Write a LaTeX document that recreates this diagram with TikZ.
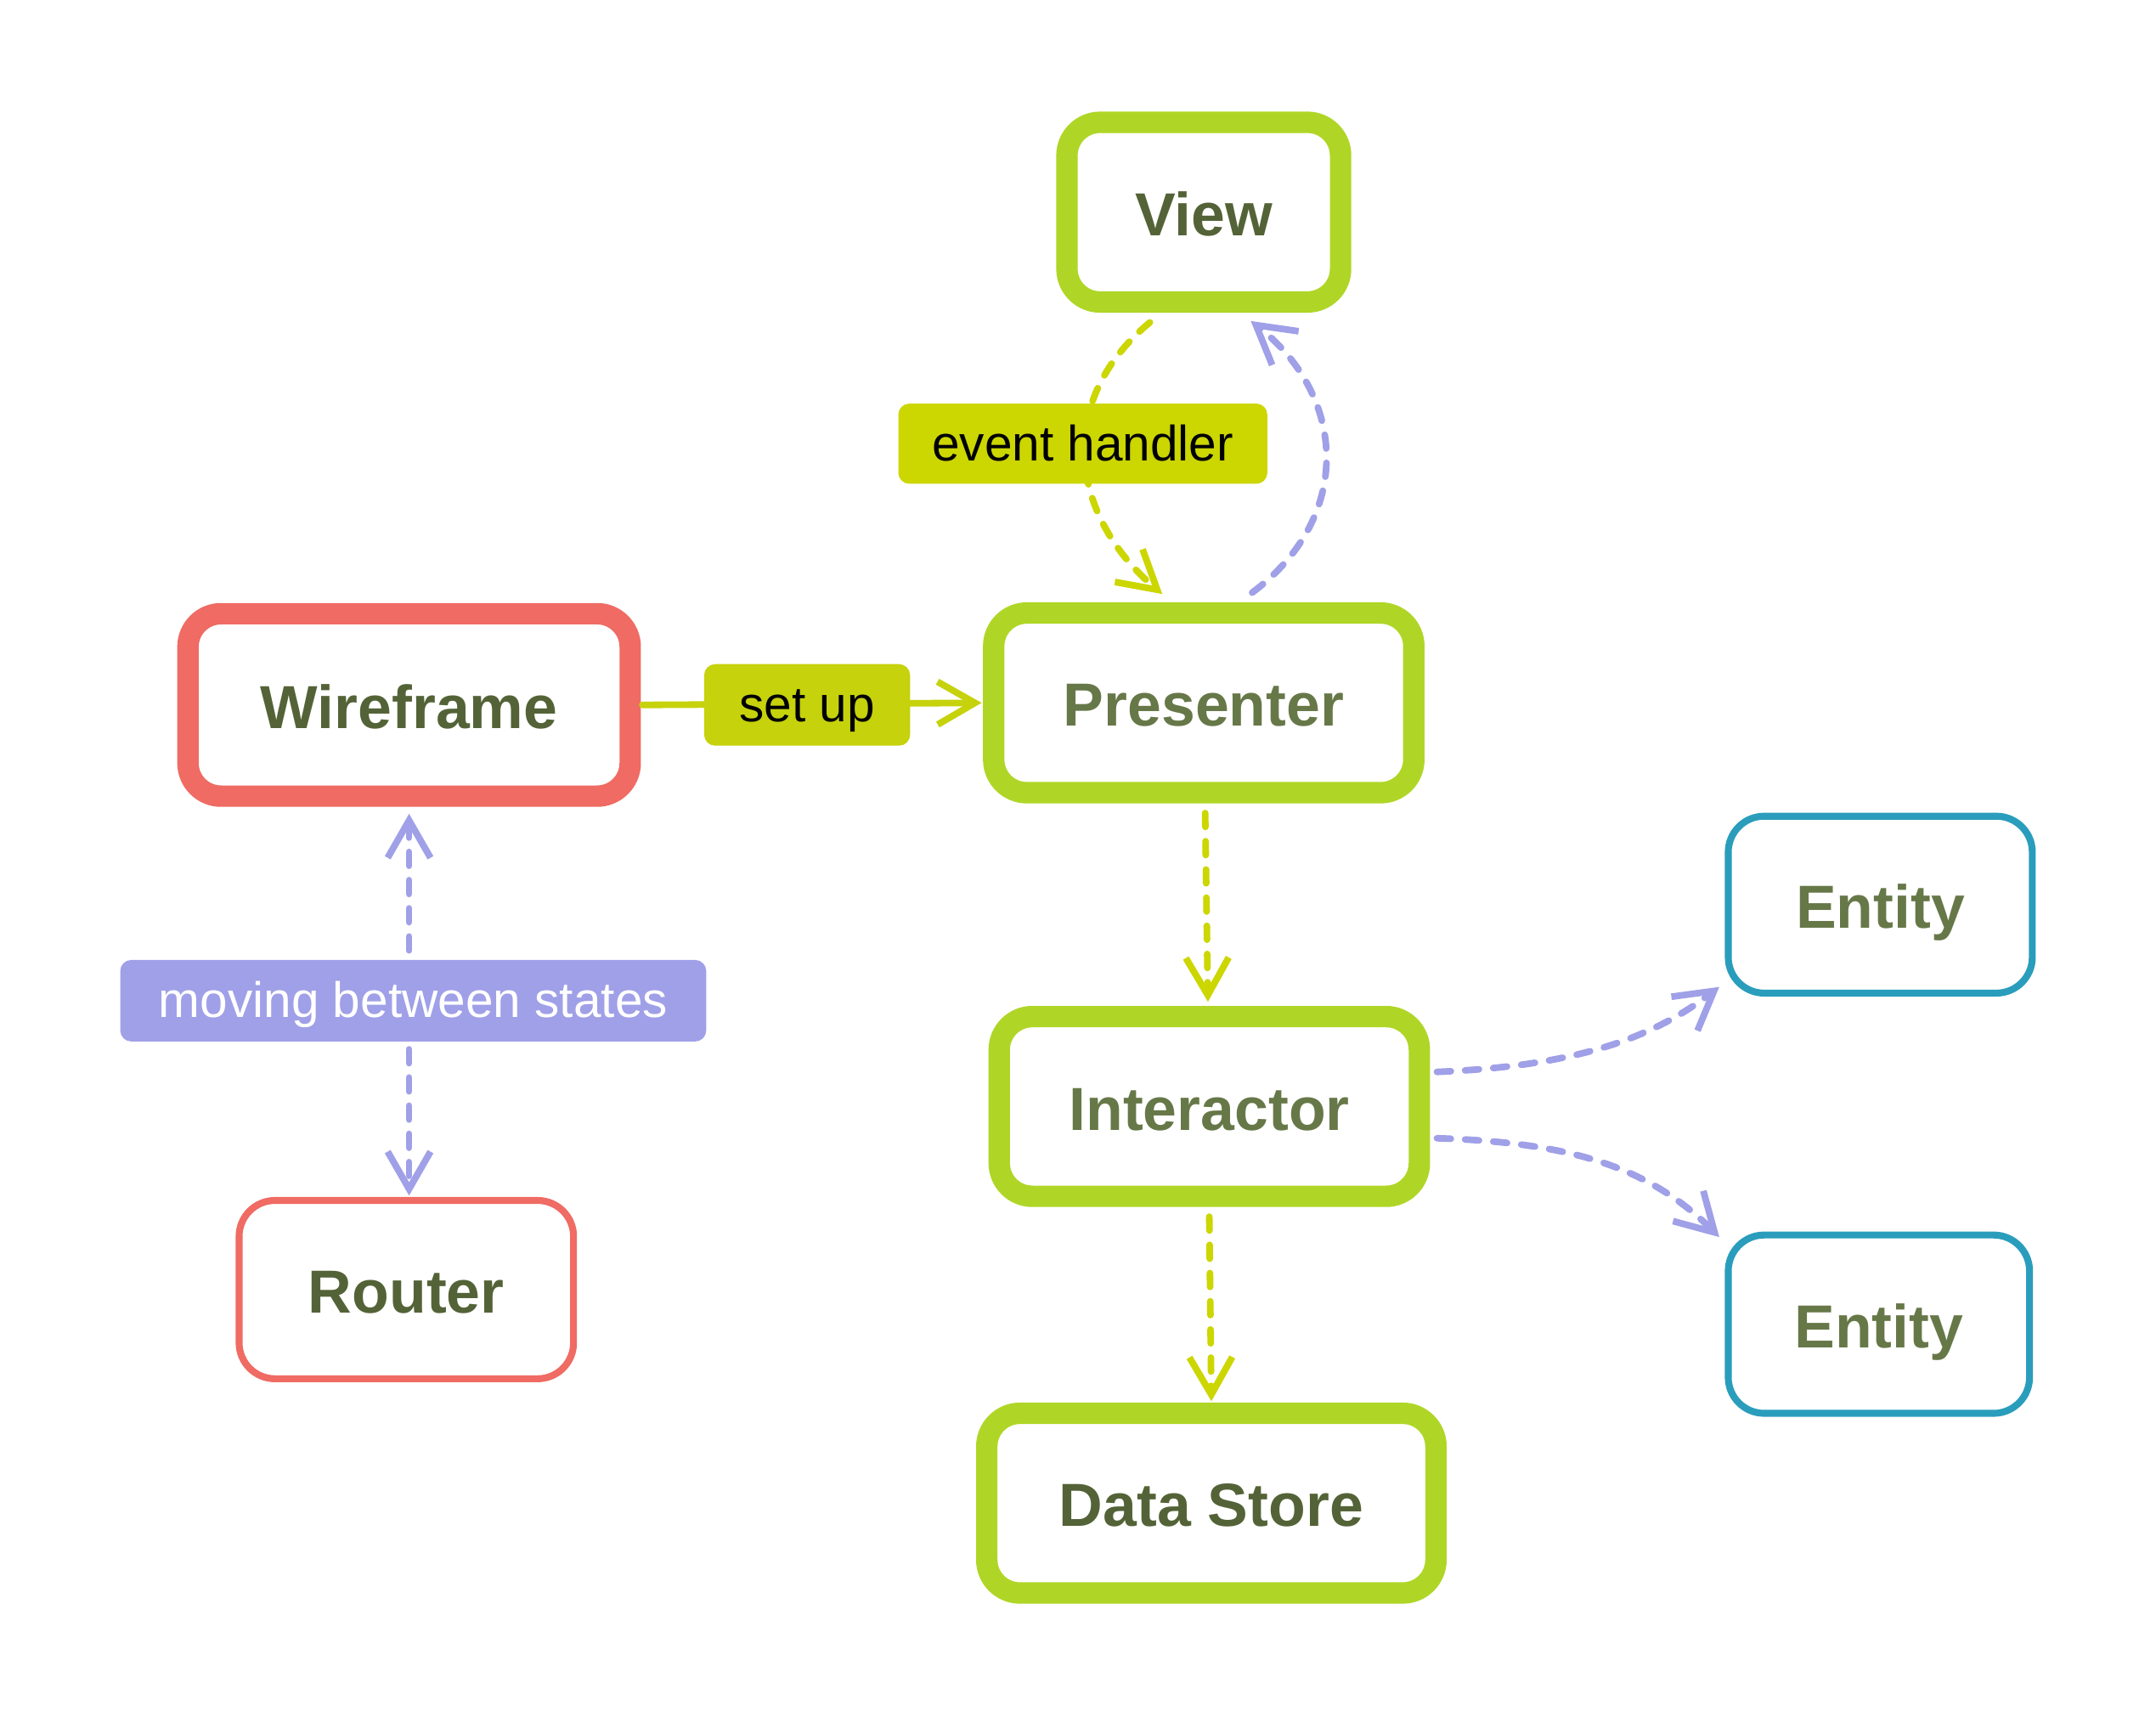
\documentclass[tikz,border=0pt]{standalone}
\usepackage{fontspec}
\setmainfont{Liberation Sans}
\usetikzlibrary{arrows.meta,calc}
\definecolor{grn}{HTML}{AFD626}
\definecolor{redc}{HTML}{EF6B63}
\definecolor{tealc}{HTML}{2A9DBC}
\definecolor{txtdark}{HTML}{546337}
\definecolor{txtlight}{HTML}{677848}
\definecolor{yel}{HTML}{CCD600}
\definecolor{setfill}{HTML}{C6D20B}
\definecolor{lav}{HTML}{A0A0E8}
\begin{document}
\begin{tikzpicture}[x=0.5pt,y=-0.5pt,
  boxbase/.style={rounded corners=12pt, fill=white, inner sep=0pt,
    text height=17pt, text depth=0pt,
    font=\fontsize{22}{26}\selectfont\bfseries},
  bigbox/.style={boxbase, draw=grn, line width=7.75pt},
  redbig/.style={boxbase, draw=redc, line width=7.75pt},
  redthin/.style={boxbase, draw=redc, line width=2.5pt, rounded corners=13pt},
  tealbox/.style={boxbase, draw=tealc, line width=2.5pt, rounded corners=13pt},
  lbl/.style={rounded corners=4pt, inner sep=0pt, text height=12.2pt, text depth=0pt,
    font=\fontsize{18}{22}\selectfont},
  dashedge/.style={line width=2.4pt, line cap=round, dash pattern=on 5pt off 5.2pt},
  tip/.style={-{Straight Barb[length=13.5pt,width=15.5pt,line width=2.4pt]}},
  both/.style={{Straight Barb[length=13.5pt,width=15.5pt,line width=2.4pt]}-{Straight Barb[length=13.5pt,width=15.5pt,line width=2.4pt]}}
]
\fill[white] (4,3.5) rectangle (1564,1245.5);
\useasboundingbox (4,3.5) rectangle (1564,1245.5);

% nodes
\node[bigbox, minimum width=99pt, minimum height=65pt, text=txtdark] (view) at (875,157) {View};
\node[bigbox, minimum width=152pt, minimum height=65pt, text=txtlight] (pres) at (875,512) {Presenter};
\node[redbig, minimum width=160pt, minimum height=66pt, text=txtdark] (wire) at (300,513.5) {Wireframe};
\node[redthin, minimum width=121pt, minimum height=64.5pt, text=txtdark] (router) at (298,936.5) {Router};
\node[bigbox, minimum width=152pt, minimum height=65pt, text=txtlight] (inter) at (879,804) {Interactor};
\node[bigbox, minimum width=162.5pt, minimum height=65pt, text=txtdark] (ds) at (880.5,1091) {Data Store};
\node[tealbox, minimum width=110pt, minimum height=64pt, text=txtlight] (ent1) at (1364.5,658) {Entity};
\node[tealbox, minimum width=109pt, minimum height=64.5pt, text=txtlight] (ent2) at (1363.5,961.5) {Entity};

% connectors
\draw[dashedge, yel, tip] ($(view.south)+(-39,7)$) .. controls +(-71,59) and +(-65,-55) .. ($(pres.north)+(-30,-6)$);
\draw[dashedge, lav, tip] ($(pres.north)+(35,-7)$) .. controls +(74,-55) and +(69,54) .. ($(view.south)+(34,6)$);
\draw[line width=2.4pt, line cap=round, setfill, tip] ($(wire.east)+(1,0)$) -- ($(pres.west)+(-1,0)$);
\draw[dashedge, lav, both] ($(wire.south)+(0,5)$) -- ($(wire.south |- router.north)+(0,-1)$);
\draw[dashedge, yel, tip] ($(pres.south)+(1,7)$) -- ($(inter.north)+(-1,-3)$);
\draw[dashedge, yel, tip] ($(inter.south)+(0,7)$) -- ($(ds.north)+(0,-1)$);
\draw[dashedge, lav, tip] ($(inter.east)+(5,-25)$) .. controls +(94,-4) and +(-52,40) .. ($(ent1.south west)+(-4,-7)$);
\draw[dashedge, lav, tip] ($(inter.east)+(5,23)$) .. controls +(94,3) and +(-52,-52) .. ($(ent2.north west)+(-4,4)$);

% labels
\node[lbl, fill=yel, minimum width=133.5pt, minimum height=29pt, text=black] (evlbl) at (787.5,324.5) {event handler};
\node[lbl, fill=setfill, minimum width=74.5pt, minimum height=29.5pt, text=black] (setlbl) at (588,513.5) {set up};
\node[lbl, fill=lav, minimum width=212pt, minimum height=29.5pt, text=white] (movlbl) at (303,727.5) {moving between states};
\end{tikzpicture}
\end{document}
